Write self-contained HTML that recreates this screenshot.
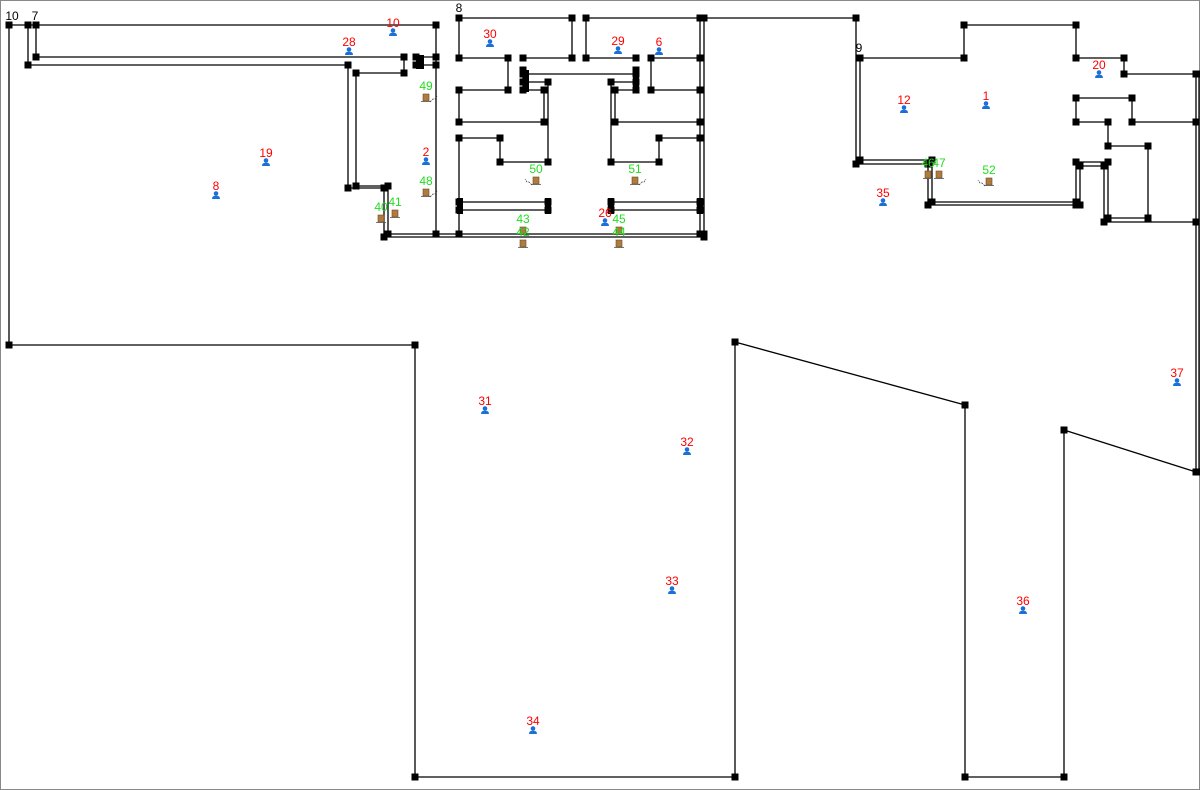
<!DOCTYPE html>
<html><head><meta charset="utf-8"><style>
html,body{margin:0;padding:0;background:#fff}
svg{display:block}
text{font-family:"Liberation Sans",sans-serif;font-size:12px}
</style></head><body>
<svg id="plan" width="1200" height="790" viewBox="0 0 1200 790">
<rect x="0.5" y="0.5" width="1199" height="789" fill="#fff" stroke="#888"/>
<g id="walls"></g><g id="nodes"></g><g id="marks"></g>
</svg>
<script>
const walls = [
[9,25,436,25],[9,25,9,345],[9,345,415,345],[28,25,28,65],[36,25,36,57],[36,57,404,57],[28,65,348,65],
[348,65,348,188],[356,73,356,186],[356,73,404,73],[404,57,404,73],[416,57,436,57],[416,65,436,65],
[436,25,436,234],[348,188,384,188],[356,186,388,186],[384,188,384,237],[388,186,388,234],
[384,237,704,237],[388,234,704,234],
[459,18,572,18],[586,18,856,18],[459,18,459,58],[572,18,572,58],[586,18,586,58],
[459,58,508,58],[508,58,508,90],[459,90,508,90],[459,90,459,122],[459,122,544,122],
[523,58,572,58],[523,70,523,90],[523,74,636,74],[523,82,548,82],[523,90,544,90],[544,90,544,122],[548,82,548,162],
[459,138,500,138],[500,138,500,162],[500,162,548,162],
[586,58,636,58],[636,70,636,90],[611,82,636,82],[615,90,636,90],[611,82,611,162],[615,90,615,122],[615,122,700,122],
[651,58,700,58],[651,58,651,90],[651,90,700,90],[659,138,700,138],[659,138,659,162],[611,162,659,162],
[700,18,700,234],[704,18,704,237],[459,138,459,234],
[459,202,548,202],[459,210,548,210],[611,202,700,202],[611,210,700,210],
[856,18,856,164],[860,58,860,160],[860,58,964,58],[964,25,964,58],[964,25,1076,25],[1076,25,1076,58],
[1076,58,1124,58],[1124,58,1124,74],[1124,74,1196,74],[1196,74,1196,472],[1199,74,1199,472],
[856,164,928,164],[860,160,932,160],[928,164,928,205],[932,160,932,202],[928,205,1076,205],[932,202,1076,202],
[1076,162,1076,205],[1080,166,1080,205],[1076,98,1132,98],[1076,98,1076,122],[1076,122,1108,122],[1132,98,1132,122],
[1132,122,1196,122],[1108,122,1108,146],[1108,146,1148,146],[1148,146,1148,218],[1076,162,1108,162],[1080,166,1104,166],
[1104,166,1104,222],[1108,162,1108,218],[1108,218,1148,218],[1104,222,1196,222],
[415,345,415,777],[415,777,735,777],[735,777,735,342],[735,342,965,405],[965,405,965,777],[965,777,1064,777],
[1064,777,1064,430],[1064,430,1196,472]
];
const blocks = [[416,55,8,14],[523,70,6,22],[633,70,6,22],[457,198,6,16],[545,198,6,16],[608,198,6,16],[697,198,6,16]];
const persons = [["10",393,32],["28",349,51],["19",266,162],["8",216,195],["2",426,161],["30",490,43],["29",618,50],["6",659,51],["26",605,222],["12",904,109],["1",986,105],["20",1099,74],["35",883,202],["37",1177,382],["31",485,410],["32",687,451],["33",672,590],["34",533,730],["36",1023,610]];
const doors = [["49",426,98,1],["48",426,193,1],["40",381,219,0],["41",395,214,0],["43",523,231,0],["42",523,244,0],["45",619,231,0],["44",619,244,0],["50",536,181,-1],["51",635,181,1],["46",928,175,0],["47",939,175,0],["52",989,182,-1]];
const tags = [["10",12,20],["7",35,20],["8",459,12],["9",859,52]];
const NS="http://www.w3.org/2000/svg";
function mk(t,a,p){const e=document.createElementNS(NS,t);for(const k in a)e.setAttribute(k,a[k]);p.appendChild(e);return e;}
const W=document.getElementById('walls'),N=document.getElementById('nodes'),M=document.getElementById('marks');
const seen={};
walls.forEach(w=>{
 const l=mk('line',{x1:w[0],y1:w[1],x2:w[2],y2:w[3],stroke:'#000','stroke-width':1.3},W);
 
 
 [[w[0],w[1]],[w[2],w[3]]].forEach(p=>{const k=p.join(',');if(seen[k])return;seen[k]=1;
  const r=mk('rect',{x:p[0]-3.5,y:p[1]-3.5,width:7,height:7,fill:'#000'},N);
  
  });
});
blocks.forEach(b=>{const r=mk('rect',{x:b[0],y:b[1],width:b[2],height:b[3],fill:'#000'},N);
 
 });
persons.forEach(p=>{
 const g=mk('g',{},M);
 
 
 mk('text',{x:p[1],y:p[2]-5,fill:'#f00','text-anchor':'middle'},g).textContent=p[0];
 mk('circle',{cx:p[1],cy:p[2]-1.5,r:2.3,fill:'#1a6fd8'},g);
 mk('path',{d:`M${p[1]-4},${p[2]+4} Q${p[1]-4},${p[2]+0.5} ${p[1]},${p[2]+0.8} Q${p[1]+4},${p[2]+0.5} ${p[1]+4},${p[2]+4}Z`,fill:'#1a6fd8'},g);
});
doors.forEach(d=>{
 const g=mk('g',{},M);
 
 
 mk('text',{x:d[1],y:d[2]-8,fill:'#22dd22','text-anchor':'middle'},g).textContent=d[0];
 mk('rect',{x:d[1]-3,y:d[2]-4,width:6,height:7,fill:'#b07a40',stroke:'#6b4a20','stroke-width':0.6},g);
 mk('line',{x1:d[1]-5,y1:d[2]+3.5,x2:d[1]+5,y2:d[2]+3.5,stroke:'#555','stroke-width':0.8},g);
 if(d[3]){const s=d[3];mk('path',{d:`M${d[1]+s*4},${d[2]+4} L${d[1]+s*7},${d[2]+1} L${d[1]+s*9},${d[2]+1} L${d[1]+s*11},${d[2]-2}`,stroke:'#444',fill:'none','stroke-width':0.8,'stroke-dasharray':'2,1'},g);}
});
tags.forEach(t=>{const e=mk('text',{x:t[1],y:t[2],fill:'#000','text-anchor':'middle'},M);e.textContent=t[0];
 
 });
</script>
</body></html>
